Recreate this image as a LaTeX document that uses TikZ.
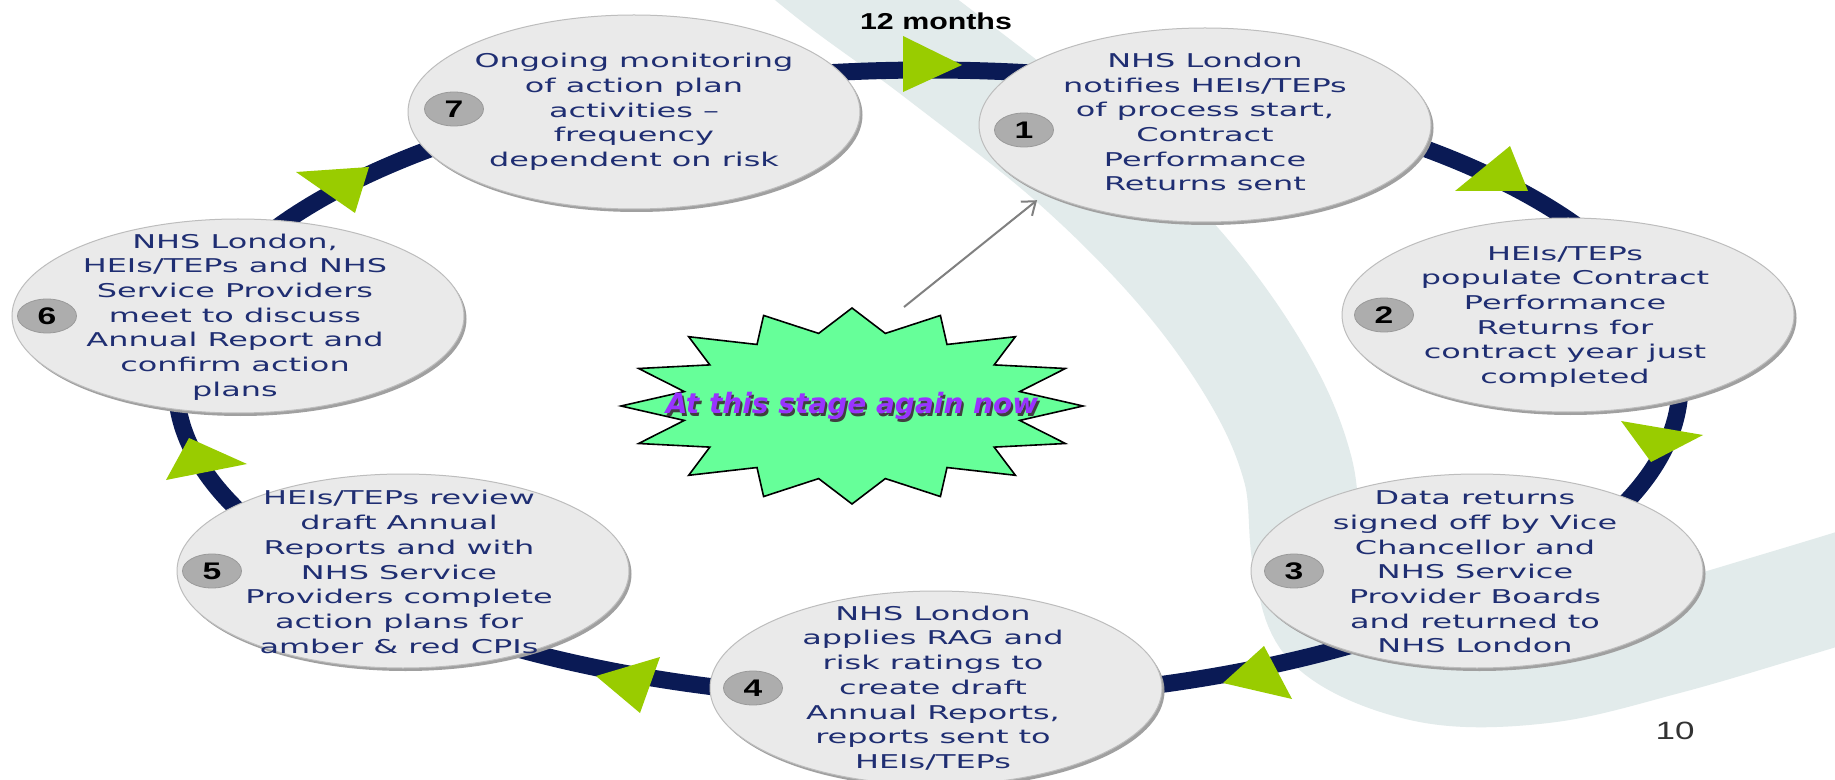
\documentclass[tikz,border=0pt]{standalone}
\usepackage{fontspec}
\usetikzlibrary{shapes.geometric,calc,arrows.meta}
\newfontfamily\bodyfont[FakeStretch=1.68]{DejaVu Sans}
\newfontfamily\numfont[FakeStretch=1.4]{Liberation Sans}
\newfontfamily\monthsfont[FakeStretch=1.32]{Liberation Sans}
\newfontfamily\pagefont[FakeStretch=1.4]{Liberation Sans}
\newfontfamily\starfont[BoldItalicFont={DejaVu Sans Bold Oblique},BoldFont={DejaVu Sans Bold},ItalicFont={DejaVu Sans Oblique}]{DejaVu Sans}
\definecolor{navytext}{HTML}{1F2E72}
\definecolor{ringnavy}{HTML}{0A1A55}
\definecolor{trigreen}{HTML}{99CC00}
\definecolor{bandgray}{HTML}{E2EBEB}
\definecolor{ellfill}{HTML}{EAEAEA}
\definecolor{ellline}{HTML}{BDBDBD}
\definecolor{ellshadow}{HTML}{A0A0A0}
\definecolor{badgegray}{HTML}{ADADAD}
\definecolor{badgeline}{HTML}{9A9A9A}
\definecolor{stargreen}{HTML}{66FF99}
\definecolor{starpurple}{HTML}{9933FF}
\definecolor{pointergray}{HTML}{808080}
\definecolor{pagegray}{HTML}{333333}
\tikzset{
  stage/.style={ellipse, minimum width=226pt, minimum height=97pt, inner sep=0pt, fill=ellfill, draw=ellline, line width=0.5pt},
  stageshade/.style={fill=ellshadow},
  stagetext/.style={align=center, text=navytext, inner sep=0pt, font=\bodyfont\fontsize{9.5pt}{12.35pt}\selectfont},
  badge/.style={ellipse, minimum width=29.5pt, minimum height=17pt, inner sep=0pt, fill=badgegray, draw=badgeline, line width=0.4pt, text=black, font=\numfont\bfseries\fontsize{12pt}{12pt}\selectfont},
  ringseg/.style={draw=ringnavy, line width=8.5pt},
  tripoint/.style={fill=trigreen},
  band/.style={draw=bandgray, line width=55pt, line cap=butt},
  burst/.style={fill=stargreen, draw=black, line width=0.8pt, line join=miter},
  startext/.style={font=\starfont\bfseries\itshape\fontsize{14pt}{14pt}\selectfont, inner sep=0pt},
  pointer/.style={draw=pointergray, line width=1pt, -{Straight Barb[length=6pt,width=9pt]}, shorten >=5pt},
  monthslabel/.style={font=\monthsfont\bfseries\fontsize{11.5pt}{11.5pt}\selectfont, text=black, inner sep=0pt},
  pagenum/.style={font=\pagefont\fontsize{12.5pt}{12.5pt}\selectfont, text=pagegray, inner sep=0pt},
}
\begin{document}
\begin{tikzpicture}[x=0.5pt,y=-0.5pt]
\useasboundingbox (0,0) rectangle (1835,780);
\clip (0,0) rectangle (1835,780);
\fill[white] (0,0) rectangle (1835,780);

% background swoosh
\draw[band] plot[smooth, tension=0.6] coordinates {(765,-80) (838,-20) (940,55) (1078,165) (1186,275) (1260,380) (1298,470) (1308,560) (1335,628) (1430,668) (1545,668) (1665,640) (1785,605) (1900,570)};

% centres
\coordinate (c7) at (634,112);
\coordinate (c1) at (1205,125);
\coordinate (c2) at (1568,315);
\coordinate (c3) at (1477,571);
\coordinate (c4) at (936,688);
\coordinate (c5) at (403,571);
\coordinate (c6) at (238,316);
\coordinate (ringc) at (928,385);

% ring connectors
\coordinate (r7) at ($(ringc)+(246:752 and 315)$);
\coordinate (r1) at ($(ringc)+(294:752 and 315)$);
\coordinate (r2) at ($(ringc)+(345.4:752 and 315)$);
\coordinate (r3) at ($(ringc)+(39:752 and 315)$);
\coordinate (r4) at ($(ringc)+(89:752 and 315)$);
\coordinate (r5) at ($(ringc)+(140:752 and 315)$);
\coordinate (r6) at ($(ringc)+(193.4:752 and 315)$);
\draw[ringseg] (r7) arc[start angle=246, end angle=294, x radius=752, y radius=315];
\draw[ringseg] (r1) arc[start angle=294, end angle=345.4, x radius=752, y radius=315];
\draw[ringseg] (r2) arc[start angle=345.4, end angle=399, x radius=752, y radius=315];
\draw[ringseg] (r3) arc[start angle=39, end angle=89, x radius=752, y radius=315];
\draw[ringseg] (r4) arc[start angle=89, end angle=140, x radius=752, y radius=315];
\draw[ringseg] (r5) arc[start angle=140, end angle=193.4, x radius=752, y radius=315];
\draw[ringseg] (r6) arc[start angle=193.4, end angle=246, x radius=752, y radius=315];

% arrow triangles
\fill[tripoint] (903,36) -- (903,92) -- (962,65) -- cycle;
\fill[tripoint] (1510,146) -- (1455,191) -- (1528,191) -- cycle;
\fill[tripoint] (1621,421) -- (1703,435) -- (1651,462) -- cycle;
\fill[tripoint] (1264,646) -- (1223,683) -- (1292,699) -- cycle;
\fill[tripoint] (596,676) -- (660,657) -- (640,713) -- cycle;
\fill[tripoint] (189,438) -- (166,480) -- (247,464) -- cycle;
\fill[tripoint] (296,172) -- (369,167) -- (355,213) -- cycle;

% ellipse shadows
\foreach \c in {c1,c2,c3,c4,c5,c6,c7}{
  \fill[stageshade] ([shift={(2.5,3)}]\c) ellipse [x radius=226, y radius=97];
}

% stage ellipses
\node[stage] (e7) at (c7) {};
\node[stage] (e1) at (c1) {};
\node[stage] (e2) at (c2) {};
\node[stage] (e3) at (c3) {};
\node[stage] (e4) at (c4) {};
\node[stage] (e5) at (c5) {};
\node[stage] (e6) at (c6) {};

% badges
\node[badge] (b7) at ($(c7)+(-180,-3)$) {7};
\node[badge] (b1) at ($(c1)+(-181,5)$) {1};
\node[badge] (b2) at ($(c2)+(-184,0)$) {2};
\node[badge] (b3) at ($(c3)+(-183,0)$) {3};
\node[badge] (b4) at ($(c4)+(-183,0)$) {4};
\node[badge] (b5) at ($(c5)+(-191,0)$) {5};
\node[badge] (b6) at ($(c6)+(-191,0)$) {6};

% texts
\node[stagetext] (t7) at (c7) {Ongoing monitoring\\of action plan\\activities \textendash\\frequency\\dependent on risk};
\node[stagetext] (t1) at ($(c1)+(0,-3)$) {NHS London\\notifies HEIs/TEPs\\of process start,\\Contract\\Performance\\Returns sent};
\node[stagetext] (t2) at ($(c2)+(-3,2)$) {HEIs/TEPs\\populate Contract\\Performance\\Returns for\\contract year just\\completed};
\node[stagetext] (t3) at ($(c3)+(-2,1)$) {Data returns\\signed off by Vice\\Chancellor and\\NHS Service\\Provider Boards\\and returned to\\NHS London};
\node[stagetext] (t4) at ($(c4)+(-3,0)$) {NHS London\\applies RAG and\\risk ratings to\\create draft\\Annual Reports,\\reports sent to\\HEIs/TEPs};
\node[stagetext] (t5) at ($(c5)+(-4,1)$) {HEIs/TEPs review\\draft Annual\\Reports and with\\NHS Service\\Providers complete\\action plans for\\amber \& red CPIs};
\node[stagetext] (t6) at ($(c6)+(-3,1)$) {NHS London,\\HEIs/TEPs and NHS\\Service Providers\\meet to discuss\\Annual Report and\\confirm action\\plans};

% starburst
\coordinate (sc) at (852,406);
\begin{scope}[shift={(852,406)}]
\filldraw[burst] (0:231 and 98) \foreach \k in {0,...,15}{ -- ({\k*22.5+11.25}:171 and 74) -- ({(\k+1)*22.5}:231 and 98)} -- cycle;
\end{scope}
\node[startext, text=black!75] (stageshadow) at ($(sc)+(2,3)$) {At this stage again now};
\node[startext, text=starpurple] (stage) at (sc) {At this stage again now};

% pointer
\coordinate (pstart) at (904,307);
\draw[pointer] (pstart) -- (e1.south west);

% labels
\node[monthslabel] (months) at (936,21) {12 months};
\node[pagenum] (pnum) at (1675,731) {10};
\end{tikzpicture}
\end{document}
